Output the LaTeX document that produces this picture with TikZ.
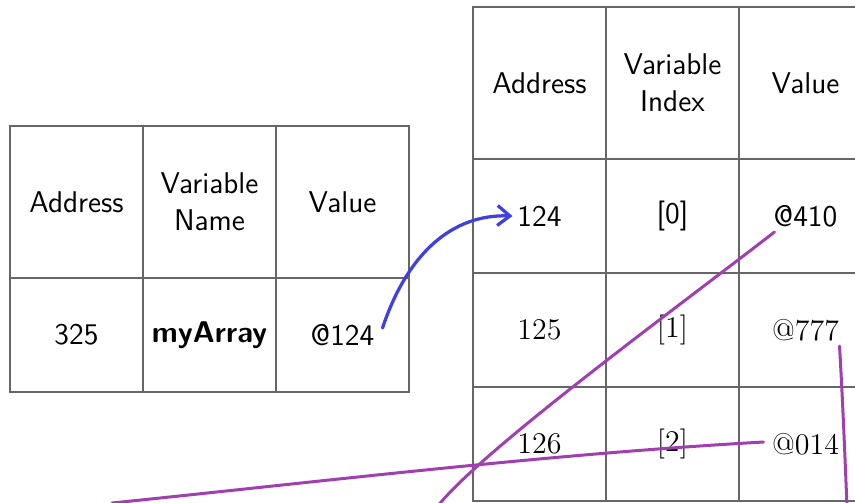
\documentclass[tikz,border=0pt]{standalone}
\usepackage{tikz}
\usetikzlibrary{arrows.meta,positioning}

\definecolor{penblue}{RGB}{64,64,224}
\definecolor{penpurple}{RGB}{160,64,176}

\tikzset{
  cell/.style={rectangle, draw=black!60, line width=0.6pt, minimum width=53.2pt,
    inner sep=0pt, outer sep=0pt, align=center,
    font=\fontsize{12}{14.8}\selectfont\sffamily},
  head/.style={cell, minimum height=60.8pt},
  datum/.style={cell, minimum height=45.6pt},
  romandatum/.style={datum, font=\fontsize{12}{14.8}\selectfont\rmfamily},
  pen/.style={line width=1.2pt, line cap=round},
}

\begin{document}
\begin{tikzpicture}[x=0.4pt,y=-0.4pt,node distance=0pt]
  \useasboundingbox (0,0) rectangle (855,502);

  % variable table
  \node[head, anchor=north west] (la) at (10,126) {Address};
  \node[head] (ln) [right=of la] {Variable\\Name};
  \node[head] (lv) [right=of ln] {Value};
  \node[datum] (laddr) [below=of la] {325};
  \node[datum] (lname) [right=of laddr] {\textbf{myArray}};
  \node[datum] (lval) [right=of lname] {@124};

  % array table
  \node[head, anchor=north west] (ra) at (473,7) {Address};
  \node[head] (ri) [right=of ra] {Variable\\Index};
  \node[head] (rv) [right=of ri] {Value};
  \node[datum] (a0) [below=of ra] {124};
  \node[datum] (i0) [right=of a0] {[0]};
  \node[datum] (v0) [right=of i0] {@410};
  \node[romandatum] (a1) [below=of a0] {125};
  \node[romandatum] (i1) [right=of a1] {[1]};
  \node[romandatum] (v1) [right=of i1] {@777};
  \node[romandatum] (a2) [below=of a1] {126};
  \node[romandatum] (i2) [right=of a2] {[2]};
  \node[romandatum] (v2) [right=of i2] {@014};

  % pen strokes
  \coordinate (ptr) at ([shift={(40,-7)}]lval.center);
  \coordinate (tgt) at ([shift={(-27,0)}]a0.center);
  \coordinate (p410) at ([shift={(-31,16)}]v0.center);
  \coordinate (p777) at ([shift={(34,16)}]v1.center);
  \coordinate (p014) at ([shift={(-42,-2)}]v2.center);
  \coordinate (off410) at (437,507);
  \coordinate (off777) at (847,507);
  \coordinate (off014) at (112,503);

  \draw[pen, penblue, line width=1.3pt, -{Straight Barb[length=5pt,width=8pt]}]
    (ptr) .. controls +(25,-75) and +(-60,-2) .. (tgt);
  \draw[pen, penpurple] (p410) .. controls +(-110,85) and +(43,-55) .. (off410);
  \draw[pen, penpurple] (p014) .. controls +(-214,12) and +(214,-22) .. (off014);
  \draw[pen, penpurple] (p777) .. controls +(3,50) and +(-2,-50) .. (off777);
\end{tikzpicture}
\end{document}
